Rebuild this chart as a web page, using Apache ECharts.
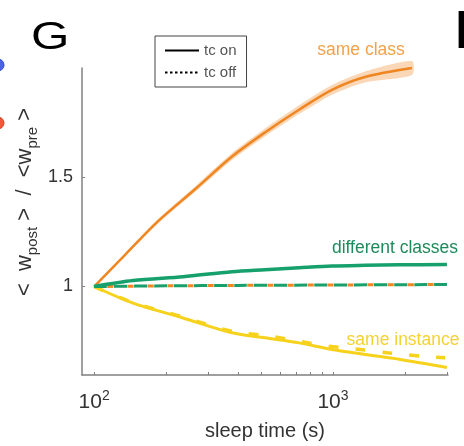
<!DOCTYPE html>
<html><head><meta charset="utf-8">
<script src="https://cdn.jsdelivr.net/npm/echarts@6/dist/echarts.min.js"></script>
<style>html,body{margin:0;padding:0;background:#fff}#c{width:464px;height:446px}</style>
</head><body><div id="c"></div>
<script>
// ---- data ----
const sameClassX   = [100, 134.8, 183.6, 264.6, 378, 519, 721, 990, 1361, 2140];
const sameClassOn  = [1.0, 1.145, 1.295, 1.445, 1.595, 1.705, 1.809, 1.9, 1.959, 2.0];
const sameClassErr = [0, 0.006, 0.01, 0.013, 0.016, 0.018, 0.02, 0.022, 0.025, 0.032];
const flatX        = [100, 200, 400, 1000, 3000];
const sameClassOff = [1.0, 1.003, 1.005, 1.007, 1.009];
const diffClassOff = [1.0, 1.003, 1.005, 1.007, 1.009];
const diffX        = [100, 145.6, 235.7, 378, 519, 721, 990, 1361, 1889, 2999];
const diffClassOn  = [1.0, 1.027, 1.045, 1.068, 1.077, 1.086, 1.094, 1.097, 1.099, 1.101];
const instX        = [100, 145.6, 235.7, 378, 519, 721, 990, 1361, 1889, 2999];
const sameInstOn   = [1.0, 0.924, 0.856, 0.788, 0.765, 0.742, 0.712, 0.689, 0.667, 0.629];
const instOffX     = [100, 145.6, 235.7, 378, 545, 741, 961, 1297, 1683, 2291, 2946];
const sameInstOff  = [1.0, 0.926, 0.86, 0.795, 0.773, 0.747, 0.727, 0.712, 0.697, 0.682, 0.674];
const xTickValues  = [100,200,300,400,500,600,700,800,900,1000,2000,3000];
const xLabelValues = [100, 1000];
const yLabelValues = [1, 1.5];

const pairs = (xs, ys) => xs.map((x, i) => [x, ys[i]]);

const ORANGE = '#EF8622', GREEN = '#16A06C', YELLOW = '#F6D21C';
const FONT = 'Liberation Sans, Arial';
const chart = echarts.init(document.getElementById('c'), null, {renderer: 'canvas'});
chart.setOption({
  animation: false,
  grid: {left: 82, right: 16, top: 68, bottom: 69},
  legend: {
    left: 155, top: 36, orient: 'vertical',
    data: ['tc on', 'tc off'],
    borderColor: '#444', borderWidth: 1, padding: [7, 10, 7, 9],
    itemGap: 7, itemWidth: 34, itemHeight: 16,
    itemStyle: {opacity: 0},
    textStyle: {fontSize: 15, color: '#555', fontFamily: FONT}
  },
  xAxis: {
    type: 'log', logBase: 10, min: 89, max: 3030,
    axisLine: {show: true, lineStyle: {color: '#808080', width: 1.5}},
    axisTick: {show: true, inside: true, length: 3, lineStyle: {color: '#808080'}, customValues: xTickValues},
    minorTick: {show: false},
    splitLine: {show: false},
    axisLabel: {
      customValues: xLabelValues, margin: 14,
      formatter: v => '{b|10}{s|' + Math.round(Math.log10(v)) + '}',
      rich: {
        b: {fontSize: 21, color: '#333', fontFamily: FONT, lineHeight: 24, verticalAlign: 'bottom'},
        s: {fontSize: 14, color: '#333', fontFamily: FONT, lineHeight: 14, verticalAlign: 'top'}
      }
    },
    name: 'sleep time (s)', nameLocation: 'middle', nameGap: 46,
    nameTextStyle: {fontSize: 20, color: '#333', fontFamily: FONT}
  },
  yAxis: {
    type: 'value', min: 0.595, max: 2.0,
    axisLine: {show: true, lineStyle: {color: '#808080', width: 1.5}},
    axisTick: {show: true, inside: true, length: 3, lineStyle: {color: '#808080'}, customValues: yLabelValues},
    splitLine: {show: false},
    axisLabel: {customValues: yLabelValues, margin: 9, fontSize: 18, color: '#333', fontFamily: FONT}
  },
  graphic: [
    {type: 'text', x: 31, y: 20, scaleX: 1.3, style: {text: 'G', fontSize: 38, fill: '#000', fontFamily: FONT}},
    {type: 'text', x: 455, y: 6, style: {text: 'H', fontSize: 54, fontWeight: 'bold', fill: '#000', fontFamily: FONT}},
    {type: 'circle', shape: {cx: -2, cy: 65, r: 6}, style: {fill: '#4A63E8', stroke: '#3346c0'}},
    {type: 'circle', shape: {cx: -2, cy: 123, r: 6}, style: {fill: '#F05A3A', stroke: '#c8452a'}},
    {type: 'text', x: 27, y: 202, rotation: Math.PI / 2,
      style: {
        text: '{t|<  w}{s|post}{t| >  /  <w}{s|pre}{t| >}', align: 'center', verticalAlign: 'middle',
        rich: {
          t: {fontSize: 22, fill: '#333', fontFamily: FONT, lineHeight: 26, verticalAlign: 'top'},
          s: {fontSize: 15, fill: '#333', fontFamily: FONT, lineHeight: 15, verticalAlign: 'bottom', padding: [16, 0, 0, 0]}
        }
      }},
    {type: 'text', x: 361, y: 50, style: {text: 'same class', fontSize: 17.5, fill: '#F2A24A', align: 'center', verticalAlign: 'middle', fontFamily: FONT}},
    {type: 'text', x: 395, y: 248, style: {text: 'different classes', fontSize: 17.5, fill: '#1E8A5C', align: 'center', verticalAlign: 'middle', fontFamily: FONT}},
    {type: 'text', x: 403, y: 340, style: {text: 'same instance', fontSize: 17.5, fill: '#F5D232', align: 'center', verticalAlign: 'middle', fontFamily: FONT}}
  ],
  series: [
    {name: 'tc on', type: 'line', data: [], symbol: 'none', lineStyle: {color: '#000', width: 2.5}, itemStyle: {color: '#000'}},
    {name: 'tc off', type: 'line', data: [], symbol: 'none', lineStyle: {color: '#000', width: 2.5, type: [2.5, 2.5]}, itemStyle: {color: '#000'}},
    {name: 'same class band', type: 'custom', clip: false, silent: true,
      data: [0],
      renderItem: (params, api) => {
        const up = sameClassX.map((x, i) => api.coord([x, sameClassOn[i] + sameClassErr[i]]));
        const lo = sameClassX.map((x, i) => api.coord([x, sameClassOn[i] - sameClassErr[i]])).reverse();
        return {type: 'polygon', shape: {points: up.concat(lo), smooth: 0.25},
          style: {fill: 'rgba(246,176,110,0.5)', stroke: 'none'}};
      }},
    {name: 'same class on', type: 'line', symbol: 'none', smooth: 0.3, clip: false,
      data: pairs(sameClassX, sameClassOn), lineStyle: {color: ORANGE, width: 2.5}},
    {name: 'same instance on', type: 'line', symbol: 'none', smooth: 0.3,
      data: pairs(instX, sameInstOn), lineStyle: {color: YELLOW, width: 3}},
    {name: 'same instance off', type: 'line', symbol: 'none', smooth: 0.3,
      data: pairs(instOffX, sameInstOff), lineStyle: {color: YELLOW, width: 3.5, type: [10, 17]}},
    {name: 'same class off', type: 'line', symbol: 'none', smooth: 0.3,
      data: pairs(flatX, sameClassOff), lineStyle: {color: ORANGE, width: 3, type: [6, 14], dashOffset: -13.5}},
    {name: 'different classes off', type: 'line', symbol: 'none', smooth: 0.3,
      data: pairs(flatX, diffClassOff), lineStyle: {color: GREEN, width: 3, type: [13, 7]}},
    {name: 'different classes on', type: 'line', symbol: 'none', smooth: 0.3,
      data: pairs(diffX, diffClassOn), lineStyle: {color: GREEN, width: 3.5}}
  ]
});
</script></body></html>
